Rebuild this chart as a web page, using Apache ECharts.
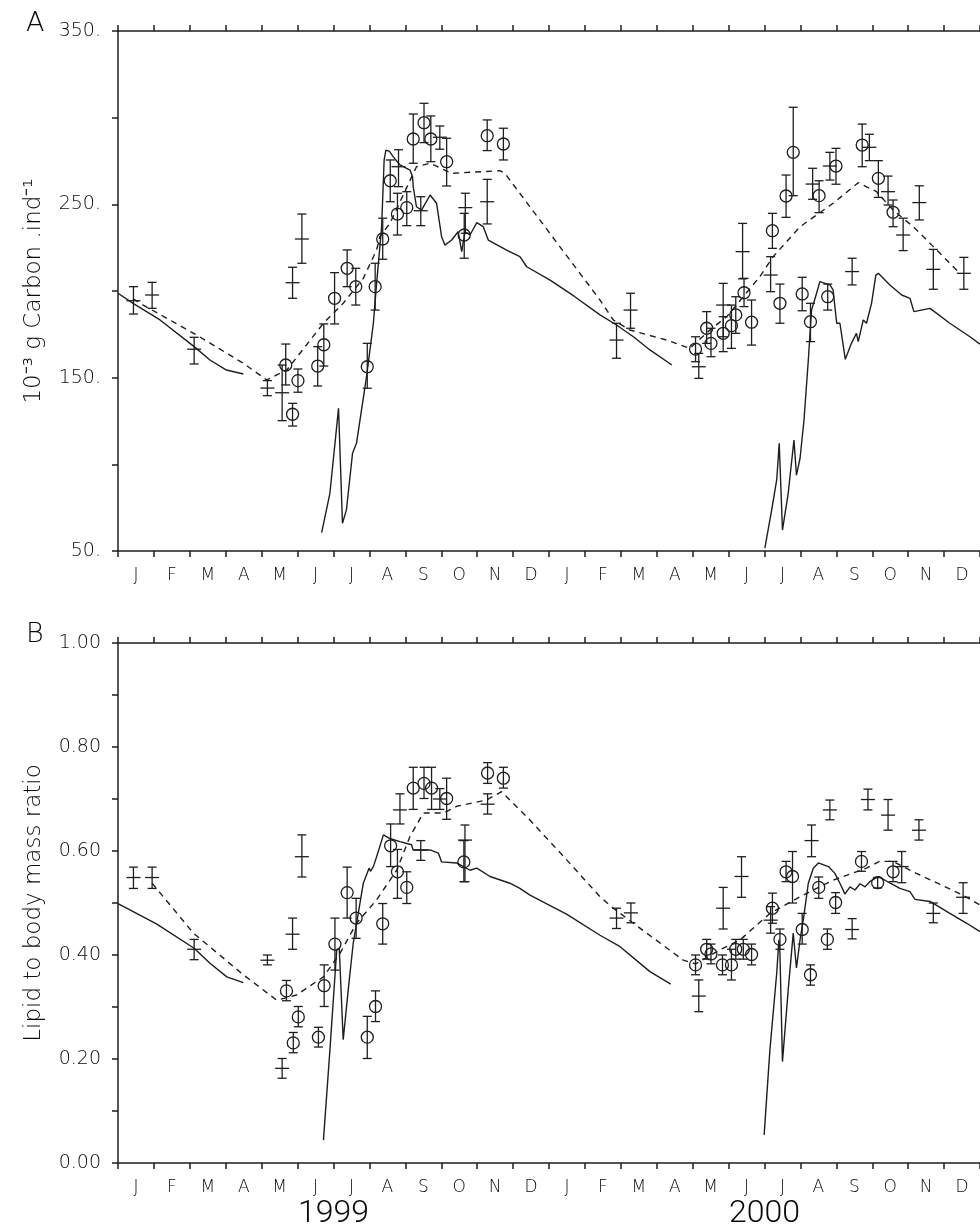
<!DOCTYPE html>
<html>
<head>
<meta charset="utf-8">
<script src="https://cdn.jsdelivr.net/npm/echarts@6/dist/echarts.min.js"></script>
<style>
  html, body { margin: 0; padding: 0; background: #fff; }
  #chart { width: 980px; height: 1230px; }
</style>
</head>
<body>
<div id="chart"></div>
<script>
// x values are months elapsed since 1 January 1999 (0 .. 24)
const MONTH_LABELS = ['J','F','M','A','M','J','J','A','S','O','N','D',
                      'J','F','M','A','M','J','J','A','S','O','N','D'];
const YEAR_LABELS = ['1999', '2000'];

// Panel A: carbon content, 10^-3 g C per individual  [month, mean, low, high]
const carbonCircles = [
  [4.67,157.3,145.8,169.4],[4.86,128.9,122.1,135.2],[5.01,148.3,141.6,155.0],
  [5.56,156.7,145.2,167.9],[5.73,169.0,156.7,181.0],[6.03,195.8,181.0,210.6],
  [6.38,213.1,202.5,223.7],[6.62,202.5,191.9,213.1],[6.94,156.3,143.9,169.8],
  [7.16,202.5,189.0,216.0],[7.37,230.0,218.3,242.0],[7.58,263.6,251.5,275.6],
  [7.78,244.4,232.3,256.4],[8.04,248.1,237.7,257.3],[8.22,287.7,273.7,302.1],
  [8.52,297.1,285.6,308.3],[8.71,287.7,274.6,301.0],[9.15,274.6,260.6,288.1],
  [9.64,232.3,218.9,244.8],[10.28,289.6,281.0,298.7],[10.73,284.8,275.6,293.9],
  [16.08,166.5,159.2,173.6],[16.39,178.5,169.8,188.1],[16.51,169.8,162.1,178.5],
  [16.85,175.6,165.0,185.2],[17.08,180.0,166.9,191.9],[17.20,186.2,175.6,196.7],
  [17.43,199.0,191.0,207.3],[17.64,182.0,168.8,194.8],[18.22,234.8,224.6,244.8],
  [18.43,192.9,181.4,204.0],[18.60,254.8,242.5,266.9],[18.80,280.0,255.0,306.0],
  [19.05,198.3,188.6,207.9],[19.28,182.3,170.8,192.9],[19.52,255.0,245.2,263.6],
  [19.76,196.7,189.0,204.0],[19.99,272.1,261.6,282.3],[20.72,284.2,271.7,296.3],
  [21.17,265.0,254.0,275.2],[21.58,245.4,237.1,252.5]
];
const carbonCrosses = [
  [0.43,194.4,186.7,202.5],[0.95,197.7,190.0,205.0],[2.12,166.4,157.9,173.3],
  [4.16,144.0,139.6,148.3],[4.57,141.3,125.2,157.3],[4.86,204.8,195.8,213.7],
  [5.12,230.0,216.0,244.4],[7.81,271.7,260.2,281.5],[8.43,246.3,237.7,254.4],
  [8.96,288.7,281.8,295.2],[9.67,248.1,233.3,256.4],[10.28,251.5,238.7,264.4],
  [13.88,171.7,161.2,181.4],[14.27,189.0,178.5,198.7],[16.17,156.3,149.6,164.0],
  [16.85,191.9,173.6,204.4],[17.39,222.7,207.0,239.0],[18.17,209.2,199.6,219.8],
  [19.34,261.7,252.9,270.8],[19.82,272.1,264.0,280.0],[20.44,211.2,203.5,218.9],
  [20.92,282.9,275.2,290.4],[21.44,257.3,249.6,266.3],[21.86,232.3,223.3,242.0],
  [22.31,251.0,241.0,260.7],[22.70,212.5,201.0,224.0],[23.55,210.2,201.0,219.4]
];
const carbonModelWinter99 = [
  [0,198.7],[0.42,192.9],[1.17,183.3],[2.12,167.9],[2.56,160.2],[3.02,154.4],[3.49,152.1]
];
const carbonModel99 = [
  [5.67,60.6],[5.90,83.3],[6.14,132.3],[6.18,131.4],[6.25,66.0],[6.36,73.7],[6.53,106.4],
  [6.64,112.1],[6.92,150.6],[7.11,181.4],[7.20,204.4],[7.34,237.1],[7.41,275.6],[7.46,281.3],
  [7.56,280.5],[7.66,277.5],[7.85,272.7],[8.13,269.8],[8.20,266.0],[8.22,260.2],[8.31,248.6],
  [8.45,246.7],[8.69,255.4],[8.87,250.6],[9.01,231.3],[9.10,226.5],[9.29,229.4],[9.47,234.2],
  [9.57,222.7],[9.66,234.2],[9.80,232.3],[9.99,239.4],[10.17,237.1],[10.31,229.4],[10.82,223.6],
  [11.19,219.8],[11.38,214.0],[12.03,206.3],[12.70,197.0],[13.42,186.2],[13.88,180.4],
  [14.35,173.6],[14.81,166.0],[15.42,157.3]
];
const carbonModel00 = [
  [18.01,51.6],[18.20,73.7],[18.34,91.0],[18.41,112.1],[18.50,62.1],[18.66,83.3],[18.82,114.0],
  [18.89,93.8],[18.99,103.5],[19.10,125.6],[19.22,160.2],[19.31,189.0],[19.45,198.7],
  [19.54,205.4],[19.82,203.5],[19.91,200.6],[20.01,181.4],[20.10,181.4],[20.25,160.6],
  [20.42,169.8],[20.56,175.6],[20.61,170.8],[20.75,183.3],[20.84,181.4],[20.98,192.9],
  [21.10,209.2],[21.17,210.2],[21.49,203.5],[21.82,197.7],[22.05,195.8],[22.16,188.1],
  [22.61,190.0],[23.16,181.4],[23.72,173.6],[24.00,169.3]
];
const carbonFit = [
  [0.42,195.5],[0.70,191.9],[2.19,174.6],[3.49,158.3],[4.14,148.7],[4.70,154.4],[5.72,181.4],
  [6.27,192.9],[6.83,207.3],[7.20,223.7],[7.29,231.3],[7.57,239.0],[8.31,271.7],[8.69,273.7],
  [9.29,267.9],[10.63,269.4],[10.77,267.9],[12.86,210.2],[13.42,194.8],[13.79,183.3],
  [14.25,177.5],[15.27,171.7],[15.92,166.9],[16.48,177.5],[16.95,185.2],[17.41,196.7],
  [17.87,208.3],[18.24,219.8],[18.99,237.1],[19.91,250.6],[20.61,262.5],[21.12,257.3],
  [21.58,246.7],[22.14,237.1],[22.70,225.6],[23.44,210.2]
];

// Panel B: lipid to body mass ratio  [month, mean, low, high]
const lipidCircles = [
  [4.69,0.331,0.312,0.351],[4.88,0.231,0.212,0.251],[5.02,0.281,0.262,0.301],
  [5.58,0.242,0.223,0.261],[5.74,0.341,0.301,0.381],[6.04,0.421,0.371,0.471],
  [6.38,0.520,0.471,0.569],[6.63,0.471,0.432,0.509],[6.94,0.242,0.201,0.282],
  [7.17,0.301,0.272,0.331],[7.37,0.460,0.421,0.499],[7.59,0.610,0.570,0.652],
  [7.78,0.560,0.509,0.603],[8.04,0.530,0.499,0.560],[8.22,0.721,0.680,0.761],
  [8.52,0.730,0.701,0.761],[8.73,0.721,0.680,0.761],[9.15,0.701,0.661,0.740],
  [9.63,0.579,0.541,0.620],[10.29,0.750,0.730,0.770],[10.73,0.740,0.721,0.761],
  [16.08,0.381,0.362,0.400],[16.39,0.411,0.392,0.430],[16.51,0.402,0.383,0.421],
  [16.83,0.381,0.362,0.400],[17.08,0.381,0.352,0.411],[17.20,0.411,0.392,0.430],
  [17.41,0.411,0.392,0.430],[17.64,0.401,0.381,0.421],[18.22,0.490,0.461,0.519],
  [18.43,0.430,0.411,0.450],[18.60,0.560,0.541,0.580],[18.78,0.551,0.500,0.599],
  [19.05,0.449,0.421,0.480],[19.28,0.362,0.342,0.381],[19.51,0.530,0.509,0.550],
  [19.75,0.430,0.411,0.450],[19.98,0.501,0.480,0.520],[20.70,0.580,0.561,0.599],
  [21.15,0.539,0.529,0.549],[21.58,0.560,0.541,0.580]
];
const lipidCrosses = [
  [0.43,0.549,0.528,0.569],[0.95,0.549,0.528,0.569],[2.12,0.411,0.391,0.430],
  [4.16,0.390,0.381,0.400],[4.57,0.182,0.163,0.201],[4.86,0.440,0.411,0.471],
  [5.12,0.589,0.550,0.631],[7.85,0.679,0.652,0.710],[8.43,0.602,0.582,0.620],
  [8.96,0.700,0.680,0.720],[9.66,0.621,0.541,0.650],[10.29,0.690,0.671,0.710],
  [13.88,0.471,0.451,0.490],[14.28,0.481,0.462,0.500],[16.17,0.321,0.291,0.352],
  [16.85,0.490,0.450,0.530],[17.36,0.551,0.511,0.589],[18.17,0.467,0.442,0.493],
  [19.31,0.620,0.589,0.650],[19.82,0.679,0.660,0.698],[20.44,0.449,0.431,0.470],
  [20.88,0.699,0.679,0.719],[21.44,0.669,0.640,0.699],[21.82,0.570,0.539,0.599],
  [22.30,0.640,0.621,0.660],[22.70,0.480,0.462,0.500],[23.53,0.511,0.480,0.539]
];
const lipidModelWinter99 = [
  [0,0.499],[1.07,0.460],[2.12,0.413],[2.56,0.384],[3.03,0.358],[3.49,0.347]
];
const lipidModel99 = [
  [5.72,0.044],[5.90,0.217],[6.09,0.410],[6.16,0.413],[6.27,0.237],[6.41,0.333],[6.55,0.423],
  [6.69,0.480],[6.83,0.538],[6.99,0.567],[7.03,0.561],[7.11,0.570],[7.20,0.589],[7.39,0.631],
  [7.57,0.624],[7.85,0.618],[8.17,0.612],[8.22,0.602],[8.69,0.602],[8.92,0.596],[9.01,0.579],
  [9.43,0.577],[9.80,0.563],[9.99,0.567],[10.36,0.551],[10.91,0.538],[11.19,0.528],
  [11.47,0.515],[12.50,0.478],[13.42,0.438],[13.98,0.416],[14.81,0.368],[15.39,0.344]
];
const lipidModel00 = [
  [17.99,0.054],[18.15,0.217],[18.34,0.365],[18.40,0.429],[18.43,0.403],[18.50,0.195],
  [18.66,0.333],[18.80,0.442],[18.89,0.375],[18.99,0.429],[19.10,0.477],[19.22,0.538],
  [19.36,0.567],[19.50,0.577],[19.78,0.570],[19.96,0.557],[20.10,0.538],[20.24,0.517],
  [20.38,0.531],[20.52,0.525],[20.66,0.537],[20.80,0.531],[20.93,0.541],[21.17,0.551],
  [21.50,0.538],[21.77,0.528],[22.05,0.522],[22.19,0.507],[22.61,0.503],[23.16,0.480],
  [23.63,0.461],[24.00,0.445]
];
const lipidFit = [
  [0.95,0.538],[2.10,0.442],[3.49,0.362],[4.42,0.313],[4.97,0.323],[5.72,0.358],[6.18,0.403],
  [6.64,0.461],[7.20,0.506],[7.76,0.563],[8.13,0.628],[8.50,0.673],[9.06,0.673],[9.43,0.686],
  [10.26,0.698],[10.68,0.714],[11.38,0.666],[12.40,0.590],[13.42,0.512],[13.79,0.490],
  [14.35,0.461],[15.74,0.390],[16.08,0.383],[16.76,0.410],[17.32,0.429],[18.15,0.480],
  [18.99,0.512],[19.91,0.544],[20.84,0.567],[21.20,0.580],[21.58,0.580],[22.23,0.557],
  [23.53,0.515],[24.00,0.496]
];

const INK = '#1e1e1e';
const TEXT = '#0a0a0a';
const FONT = '"DejaVu Sans", "Liberation Sans", sans-serif';
const YEAR_FONT = 'Roboto, "Liberation Sans", sans-serif';

const chart = echarts.init(document.getElementById('chart'), null, { renderer: 'canvas' });

// Vertical error bar with end caps, topped by an open circle or a horizontal mean tick
function errorBar(kind) {
  return function (params, api) {
    const m = api.value(0);
    const c = api.coord([m, api.value(1)]);
    const lo = api.coord([m, api.value(2)]);
    const hi = api.coord([m, api.value(3)]);
    const cap = 4.5;
    const st = { stroke: INK, lineWidth: 1.3 };
    const children = [
      { type: 'line', shape: { x1: c[0], y1: hi[1], x2: c[0], y2: lo[1] }, style: st },
      { type: 'line', shape: { x1: c[0] - cap, y1: hi[1], x2: c[0] + cap, y2: hi[1] }, style: st },
      { type: 'line', shape: { x1: c[0] - cap, y1: lo[1], x2: c[0] + cap, y2: lo[1] }, style: st }
    ];
    if (kind === 'circle') {
      children.push({ type: 'circle', shape: { cx: c[0], cy: c[1], r: 6 },
                      style: { stroke: INK, lineWidth: 1.3, fill: 'none' } });
    } else {
      children.push({ type: 'line', shape: { x1: c[0] - 7, y1: c[1], x2: c[0] + 7, y2: c[1] }, style: st });
    }
    return { type: 'group', children: children };
  };
}

const axisLineStyle = { color: INK, width: 1.5 };

function monthValueAxis(grid, position) {
  return {
    type: 'value', gridIndex: grid, position: position, min: 0, max: 24, interval: 1,
    axisLine: { show: true, onZero: false, lineStyle: axisLineStyle },
    axisTick: { show: true, length: 6, lineStyle: axisLineStyle },
    axisLabel: { show: false }, splitLine: { show: false }
  };
}
function monthLabelAxis(grid) {
  return {
    type: 'category', gridIndex: grid, position: 'bottom', data: MONTH_LABELS, boundaryGap: true,
    axisLine: { show: false }, axisTick: { show: false }, splitLine: { show: false },
    axisLabel: { margin: 16, interval: 0, color: TEXT, fontFamily: FONT, fontSize: 17, fontWeight: 200 }
  };
}

function lineSeries(data, x, y, dashed) {
  return {
    type: 'line', xAxisIndex: x, yAxisIndex: y, data: data, showSymbol: false, symbol: 'none',
    smooth: false, silent: true, z: 3,
    lineStyle: { color: INK, width: 1.4, type: dashed ? [6, 5] : 'solid' }
  };
}
function barSeries(data, x, y, kind) {
  return {
    type: 'custom', xAxisIndex: x, yAxisIndex: y, data: data, silent: true, z: 4,
    renderItem: errorBar(kind), encode: { x: 0, y: [1, 2, 3] }
  };
}

const nameStyle = { color: TEXT, fontFamily: FONT, fontSize: 23, fontWeight: 200 };

const option = {
  animation: false,
  backgroundColor: '#fff',
  grid: [
    { left: 118, right: 0, top: 31, height: 520 },
    { left: 118, right: 0, top: 643, height: 520 }
  ],
  xAxis: [
    monthValueAxis(0, 'bottom'),
    monthValueAxis(0, 'top'),
    monthLabelAxis(0),
    monthValueAxis(1, 'bottom'),
    monthValueAxis(1, 'top'),
    monthLabelAxis(1),
    {
      type: 'category', gridIndex: 1, position: 'bottom', data: YEAR_LABELS, boundaryGap: true,
      axisLine: { show: false }, axisTick: { show: false }, splitLine: { show: false },
      axisLabel: { margin: 35, interval: 0, color: TEXT, fontFamily: YEAR_FONT, fontSize: 32, fontWeight: 300 }
    }
  ],
  yAxis: [
    {
      type: 'value', gridIndex: 0, min: 50, max: 350, interval: 50,
      name: '10\u207B\u00B3 g Carbon .ind\u207B\u00B9', nameLocation: 'middle', nameGap: 72,
      nameTextStyle: nameStyle,
      axisLine: { show: true, lineStyle: axisLineStyle },
      axisTick: { show: true, length: 6, lineStyle: axisLineStyle },
      splitLine: { show: false },
      axisLabel: { margin: 17, fontSize: 19, color: TEXT, fontFamily: FONT, fontWeight: 200,
        formatter: v => ((v - 50) % 100 === 0 ? v + '.' : '') }
    },
    {
      type: 'value', gridIndex: 1, min: 0, max: 1, interval: 0.1,
      name: 'Lipid to body mass ratio', nameLocation: 'middle', nameGap: 72,
      nameTextStyle: nameStyle,
      axisLine: { show: true, lineStyle: axisLineStyle },
      axisTick: { show: true, length: 6, lineStyle: axisLineStyle },
      splitLine: { show: false },
      axisLabel: { margin: 17, fontSize: 19, color: TEXT, fontFamily: FONT, fontWeight: 200,
        formatter: v => (Math.round(v * 10) % 2 === 0 ? v.toFixed(2) : '') }
    }
  ],
  graphic: [
    { type: 'text', left: 26, top: 10, style: { text: 'A', fontSize: 27, fontFamily: FONT, fontWeight: 200, fill: TEXT } },
    { type: 'text', left: 26, top: 621, style: { text: 'B', fontSize: 27, fontFamily: FONT, fontWeight: 200, fill: TEXT } }
  ],
  series: [
    lineSeries(carbonModelWinter99, 0, 0, false),
    lineSeries(carbonModel99, 0, 0, false),
    lineSeries(carbonModel00, 0, 0, false),
    lineSeries(carbonFit, 0, 0, true),
    barSeries(carbonCircles, 0, 0, 'circle'),
    barSeries(carbonCrosses, 0, 0, 'cross'),
    lineSeries(lipidModelWinter99, 3, 1, false),
    lineSeries(lipidModel99, 3, 1, false),
    lineSeries(lipidModel00, 3, 1, false),
    lineSeries(lipidFit, 3, 1, true),
    barSeries(lipidCircles, 3, 1, 'circle'),
    barSeries(lipidCrosses, 3, 1, 'cross')
  ]
};

chart.setOption(option);
</script>
</body>
</html>
